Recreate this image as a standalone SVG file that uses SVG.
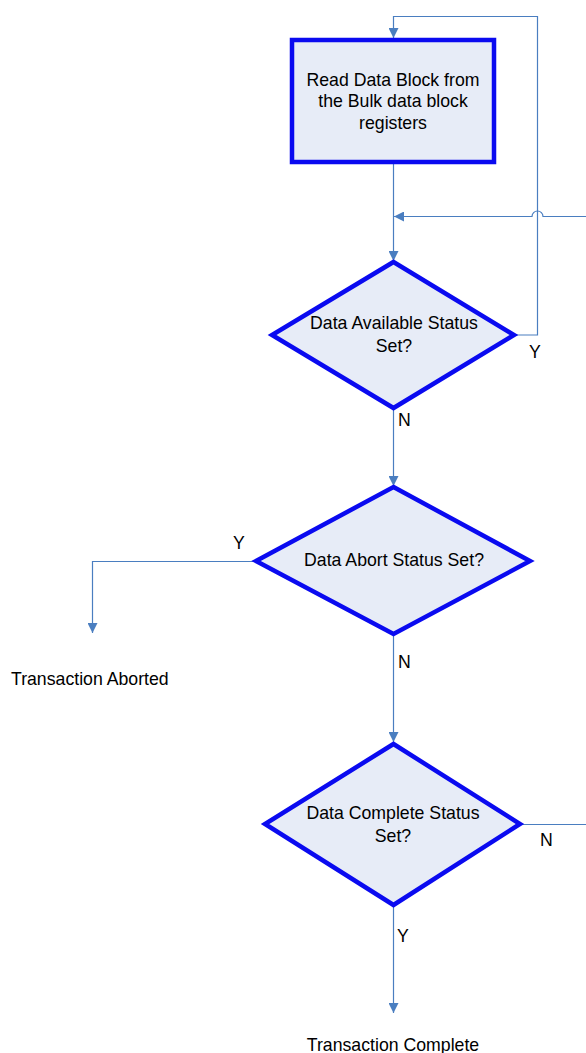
<svg xmlns="http://www.w3.org/2000/svg" width="586" height="1053" viewBox="0 0 586 1053">
<style>
.node{fill:#E7ECF7;stroke:#0A0AF0;stroke-width:4.5;stroke-linejoin:miter}
.t{font-family:"Liberation Sans",Arial,sans-serif;font-size:17.7px;fill:#000;text-anchor:middle}
.l{font-family:"Liberation Sans",Arial,sans-serif;font-size:17.7px;fill:#000}
.c{fill:none;stroke:#4A7EC0;stroke-width:1.2}
</style>
<defs>
<marker id="ah" viewBox="0 0 10 10" refX="10" refY="5" markerWidth="10" markerHeight="10" markerUnits="userSpaceOnUse" orient="auto">
<path d="M0,0 L10,5 L0,10 Z" fill="#4A7EC0"/>
</marker>
</defs>
<rect width="586" height="1053" fill="#fff"/>
<g id="connectors">
<path class="c" d="M393.5,164 V261" marker-end="url(#ah)"/>
<path class="c" d="M514,335 H537.5 V16.5 H393.5 V38" marker-end="url(#ah)"/>
<path class="c" d="M586,216.5 H543 A5.5,5.5 0 0 0 532,216.5 H394" marker-end="url(#ah)"/>
<path class="c" d="M393.5,408 V486" marker-end="url(#ah)"/>
<path class="c" d="M256,561.5 H92.5 V633" marker-end="url(#ah)"/>
<path class="c" d="M393.5,634 V742" marker-end="url(#ah)"/>
<path class="c" d="M522,824.5 H586"/>
<path class="c" d="M393.5,905 V1013" marker-end="url(#ah)"/>
</g>
<g id="read-block">
<rect class="node" x="292" y="40" width="202" height="122"/>
<text class="t" x="393" y="86">Read Data Block from</text>
<text class="t" x="393" y="107">the Bulk data block</text>
<text class="t" x="393" y="129">registers</text>
</g>
<g id="data-available">
<polygon class="node" points="393.5,262 514,335 393.5,408 272,335"/>
<text class="t" x="394" y="329">Data Available Status</text>
<text class="t" x="394" y="352">Set?</text>
<text class="l" x="529" y="358">Y</text>
<text class="l" x="398" y="426">N</text>
</g>
<g id="data-abort">
<polygon class="node" points="393.5,487 530,561 393.5,634 256,561"/>
<text class="t" x="394" y="566">Data Abort Status Set?</text>
<text class="l" x="233" y="549">Y</text>
<text class="l" x="398" y="668">N</text>
</g>
<g id="aborted">
<text class="l" x="11" y="685">Transaction Aborted</text>
</g>
<g id="data-complete">
<polygon class="node" points="393.5,744 520,824 393.5,905 265,824"/>
<text class="t" x="393" y="819">Data Complete Status</text>
<text class="t" x="393" y="842">Set?</text>
<text class="l" x="540" y="846">N</text>
<text class="l" x="397" y="942">Y</text>
</g>
<g id="complete">
<text class="t" x="393" y="1051">Transaction Complete</text>
</g>
</svg>
